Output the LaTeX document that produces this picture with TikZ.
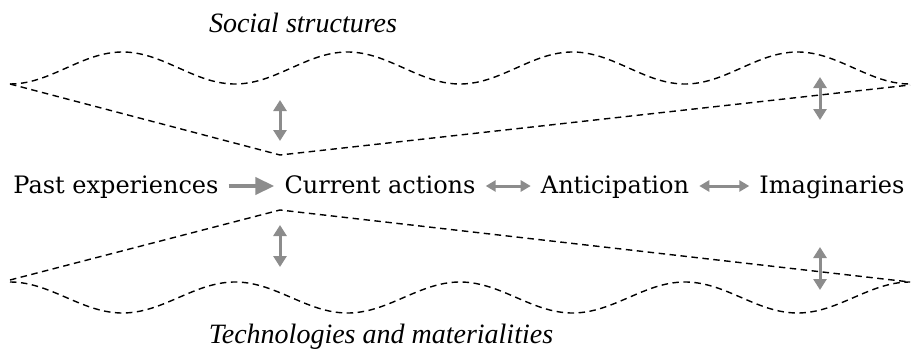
\documentclass[tikz,border=0pt]{standalone}
\usepackage{fontspec}
\setmainfont{Liberation Serif}
\newfontfamily\mainrowfont{DejaVu Serif}
\usetikzlibrary{arrows.meta}
\definecolor{arrowgray}{RGB}{140,140,140}
\begin{document}
\begin{tikzpicture}[x=1pt,y=-1pt,
  dashline/.style={draw=black,line width=1.4pt,dash pattern=on 6.5pt off 4.5pt},
  maintext/.style={font=\mainrowfont\fontsize{24}{29}\selectfont,inner xsep=10pt,inner ysep=0pt,text height=21pt,text depth=7pt,anchor=base},
  label/.style={font=\fontsize{28}{33}\selectfont\itshape,inner sep=0pt,anchor=base},
  onearrow/.style={draw=arrowgray,line width=4pt,-{Triangle[length=19pt,width=17pt]}},
  twoarrow/.style={draw=arrowgray,line width=3pt,{Triangle[length=10pt,width=11pt]}-{Triangle[length=10pt,width=11pt]}},
  vertarrow/.style={draw=arrowgray,line width=3pt,{Triangle[length=11pt,width=13pt]}-{Triangle[length=11pt,width=13pt]}}]
\useasboundingbox (0,0) rectangle (911,351);

% labels
\node[label] (social) at (303,32) {Social structures};
\node[label] (tech) at (381,343) {Technologies and materialities};

% top shape
\coordinate (tl) at (10,84);
\coordinate (tm) at (280,155);
\coordinate (tr) at (910,85);
\draw[dashline] plot[domain=10:910,samples=181,smooth] (\x,{68+16*cos(1.6*(\x-10))});
\draw[dashline] (tl) -- (tm) -- (tr);

% bottom shape
\coordinate (bl) at (10,280);
\coordinate (bm) at (280,210);
\coordinate (br) at (910,282);
\draw[dashline] plot[domain=10:910,samples=181,smooth] (\x,{297.5-15.5*cos(1.6*(\x-10))});
\draw[dashline] (bl) -- (bm) -- (br);

% main row
\node[maintext] (past) at (116,193) {Past experiences};
\node[maintext] (cur) at (380,193) {Current actions};
\node[maintext] (ant) at (615,193) {Anticipation};
\node[maintext] (ima) at (832,193) {Imaginaries};

\draw[onearrow] (past.east) -- (cur.west);
\draw[twoarrow] (cur.east) -- (ant.west);
\draw[twoarrow] (ant.east) -- (ima.west);

% vertical arrows
\coordinate (v1a) at (280,100);
\coordinate (v1b) at (280,141);
\coordinate (v2a) at (820,77);
\coordinate (v2b) at (820,120);
\coordinate (v3a) at (280,225);
\coordinate (v3b) at (280,267);
\coordinate (v4a) at (820,247);
\coordinate (v4b) at (820,290);
\draw[vertarrow] (v1a) -- (v1b);
\draw[vertarrow] (v2a) -- (v2b);
\draw[vertarrow] (v3a) -- (v3b);
\draw[vertarrow] (v4a) -- (v4b);
\end{tikzpicture}
\end{document}
